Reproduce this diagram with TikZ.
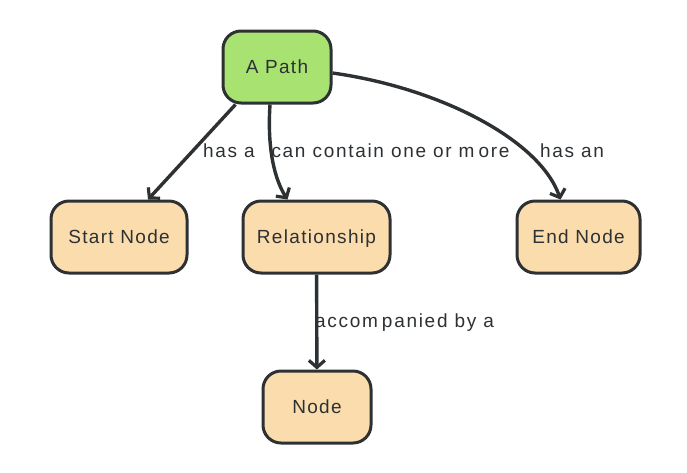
\documentclass[tikz,border=0pt]{standalone}
\usepackage{fontspec}
\usetikzlibrary{arrows.meta}
\newfontfamily\lsf[LetterSpace=7]{Liberation Sans}
\newfontfamily\lsfw[LetterSpace=9]{Liberation Sans}
\definecolor{ink}{HTML}{2D3133}
\definecolor{greenfill}{HTML}{A8E270}
\definecolor{orangefill}{HTML}{FBDCAD}
\tikzset{
  txt/.style={font=\lsf\fontsize{19}{22}\selectfont, text=ink, text height=14pt, text depth=1.5pt},
  box/.style={txt, draw=ink, line width=3pt, rounded corners=18pt, minimum height=72pt, inner sep=0pt},
  greenbox/.style={box, fill=greenfill},
  orangebox/.style={box, fill=orangefill},
  conn/.style={draw=ink, line width=3.4pt, -{Straight Barb[length=7pt,width=16pt,line width=3.2pt]}},
  lbl/.style={txt, font=\lsfw\fontsize{19}{22}\selectfont, inner sep=0pt}
}
\begin{document}
\begin{tikzpicture}[x=1pt,y=-1pt]
\fill[white] (0,0) rectangle (687,472);
\useasboundingbox (0,0) rectangle (687,472);
\node[greenbox, minimum width=108pt] (apath) at (277,67) {A Path};
\node[orangebox, minimum width=136pt] (start) at (119,237) {Start Node};
\node[orangebox, minimum width=147pt] (rel) at (316.5,237) {Relationship};
\node[orangebox, minimum width=123pt] (endn) at (578.5,237) {End Node};
\node[orangebox, minimum width=108pt] (nodeb) at (317,407) {Node};
\draw[conn] ([xshift=14pt]apath.south west) -- ([xshift=29pt]start.north);
\draw[conn] ([xshift=-7pt]apath.south) .. controls (267,150) and (275,180) .. ([xshift=-29pt]rel.north);
\draw[conn] ([yshift=-6pt]apath.east) .. controls (440,88) and (540,140) .. ([xshift=-18pt]endn.north);
\draw[conn] (rel) -- (nodeb);
\node[lbl] (l1) at (229,151.5) {has a};
\node[lbl] (l2) at (390.5,151.5) {can contain one or m\kern4pt ore};
\node[lbl] (l3) at (572,151.5) {has an};
\node[lbl, anchor=west] (l4) at (315,321.5) {accom\kern4pt panied by a};
\end{tikzpicture}
\end{document}
